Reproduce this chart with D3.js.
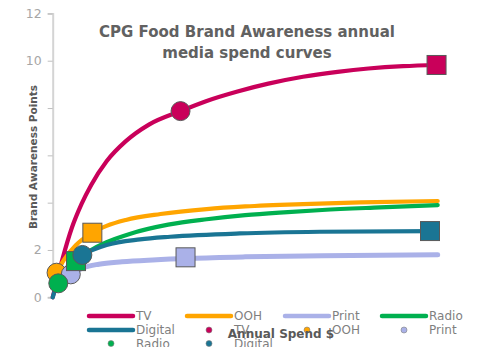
<!DOCTYPE html>
<html>
<head>
<meta charset="utf-8">
<script src="https://cdn.jsdelivr.net/npm/d3@7"></script>
<style>
  body { margin: 0; background: #fff; }
  svg { display: block; }
  text { font-family: "DejaVu Sans", sans-serif; fill: #595959; }
</style>
</head>
<body>
<div id="chart"></div>
<script>
// media channels, in legend order
const series = ["TV", "OOH", "Print", "Radio", "Digital"];
const colors = ["#c9005a", "#ffa500", "#aab1e8", "#00b04f", "#1a7594"];

// spend (arbitrary units, 0-100) vs awareness points
const tvSpend    = [0, 2.5, 5, 7.5, 10, 14, 19, 25, 33.2, 40, 48, 56, 65, 74, 82, 91, 100];
const tvPoints   = [0, 1.6, 2.95, 3.95, 4.75, 5.75, 6.6, 7.3, 7.87, 8.3, 8.7, 9.03, 9.32, 9.53, 9.67, 9.77, 9.82];
const oohSpend   = [1.0, 3, 6, 10.3, 14, 19, 28, 40, 50, 65, 80, 100];
const oohPoints  = [1.04, 1.6, 2.2, 2.73, 3.02, 3.27, 3.52, 3.73, 3.84, 3.94, 4.01, 4.07];
const printSpend  = [4.7, 8, 12, 18, 26, 36, 50, 70, 100];
const printPoints = [0.97, 1.25, 1.4, 1.5, 1.58, 1.65, 1.71, 1.76, 1.8];
const radioSpend  = [1.45, 6.05, 10, 14, 20, 30, 40, 50, 60, 70, 85, 100];
const radioPoints = [0.59, 1.53, 2.0, 2.33, 2.68, 3.07, 3.3, 3.47, 3.59, 3.69, 3.8, 3.9];
const digitalSpend  = [0, 1, 3, 5, 7.7, 14, 22.7, 30.5, 48.6, 69.4, 100];
const digitalPoints = [0, 0.5, 1.1, 1.5, 1.79, 2.21, 2.45, 2.56, 2.7, 2.77, 2.8];

// highlighted points: circle = current spend, square = max spend
const circleSpend  = [33.2, 1.0, 4.7, 1.45, 7.7];
const circlePoints = [7.87, 1.04, 0.97, 0.59, 1.79];
const squareSpend  = [99.7, 10.3, 34.5, 6.05, 98.0];
const squarePoints = [9.82, 2.73, 1.69, 1.53, 2.8];

const yTicks = [0, 2, 4, 6, 8, 10, 12];
const yTickLabels = ["0", "2", "", "", "", "10", "12"];

const curves = [
  [tvSpend, tvPoints], [oohSpend, oohPoints], [printSpend, printPoints],
  [radioSpend, radioPoints], [digitalSpend, digitalPoints]
];

const width = 480, height = 347;
const svg = d3.select("#chart").append("svg")
  .attr("width", width).attr("height", height);

const x = d3.scaleLinear().domain([0, 100]).range([52.7, 437.7]);
const y = d3.scaleLinear().domain([0, 12]).range([297.3, 13.4]);

// y axis
const gy = svg.append("g").attr("transform", "translate(52.7,0)")
  .call(d3.axisLeft(y).tickValues(yTicks).tickSize(5).tickPadding(6)
    .tickFormat((d, i) => yTickLabels[i]));
gy.select(".domain").attr("stroke", "#d4d4d4").attr("stroke-width", 2);
gy.selectAll(".tick line").attr("stroke", "#bfbfbf");
gy.selectAll(".tick text").style("font-family", "DejaVu Sans")
  .attr("font-size", 12.5).style("fill", "#a6a6a6");

// lines
const line = d3.line().x(d => x(d[0])).y(d => y(d[1])).curve(d3.curveMonotoneX);
const gLines = svg.append("g");
curves.forEach(([xs, ys], i) => {
  gLines.append("path")
    .datum(xs.map((v, j) => [v, ys[j]]))
    .attr("d", line)
    .attr("fill", "none")
    .attr("stroke", colors[i])
    .attr("stroke-width", i === 2 ? 5 : 4.2)
    .attr("stroke-linecap", "round");
});

// markers
const gMarks = svg.append("g");
series.forEach((s, i) => {
  gMarks.append("circle")
    .attr("cx", x(circleSpend[i])).attr("cy", y(circlePoints[i])).attr("r", 9.5)
    .attr("fill", colors[i]).attr("stroke", "#595959").attr("stroke-width", 1);
  gMarks.append("rect")
    .attr("x", x(squareSpend[i]) - 9.5).attr("y", y(squarePoints[i]) - 9.5)
    .attr("width", 19).attr("height", 19)
    .attr("fill", colors[i]).attr("stroke", "#595959").attr("stroke-width", 1);
});

// title
svg.append("text").attr("x", 247).attr("text-anchor", "middle")
  .attr("font-size", 15).attr("font-weight", "bold").style("fill", "#616161")
  .selectAll("tspan").data(["CPG Food Brand Awareness annual", "media spend curves"])
  .join("tspan").attr("x", 247).attr("y", (d, i) => 37 + i * 21).text(d => d);

// y axis title
svg.append("text")
  .attr("transform", "translate(37,157) rotate(-90)")
  .attr("text-anchor", "middle").attr("font-size", 10.5).attr("font-weight", "bold")
  .text("Brand Awareness Points");

// legend
const legendItems = series.map((s, i) => ({ name: s, type: "line", c: colors[i] }))
  .concat(series.map((s, i) => ({ name: s, type: "dot", c: colors[i] })));
const colX = [89, 187, 285, 382];
const rowY = [316, 330, 343.5];
const gLeg = svg.append("g");
legendItems.forEach((d, k) => {
  const cx = colX[k % 4], cy = rowY[Math.floor(k / 4)];
  if (d.type === "line") {
    gLeg.append("line").attr("x1", cx).attr("x2", cx + 44)
      .attr("y1", cy).attr("y2", cy)
      .attr("stroke", d.c).attr("stroke-width", 4.5).attr("stroke-linecap", "round");
  } else {
    gLeg.append("circle").attr("cx", cx + 22).attr("cy", cy).attr("r", 3)
      .attr("fill", d.c).attr("stroke", "#7f7f7f").attr("stroke-width", 0.6);
  }
  gLeg.append("text").attr("x", cx + 47).attr("y", cy).attr("dy", "0.36em")
    .attr("font-size", 12).style("fill", "#7f7f7f").text(d.name);
});

// x axis title (sits over the legend, like the original)
svg.append("text").attr("x", 281).attr("y", 338)
  .attr("text-anchor", "middle").attr("font-size", 12).attr("font-weight", "bold")
  .text("Annual Spend $");
</script>
</body>
</html>
